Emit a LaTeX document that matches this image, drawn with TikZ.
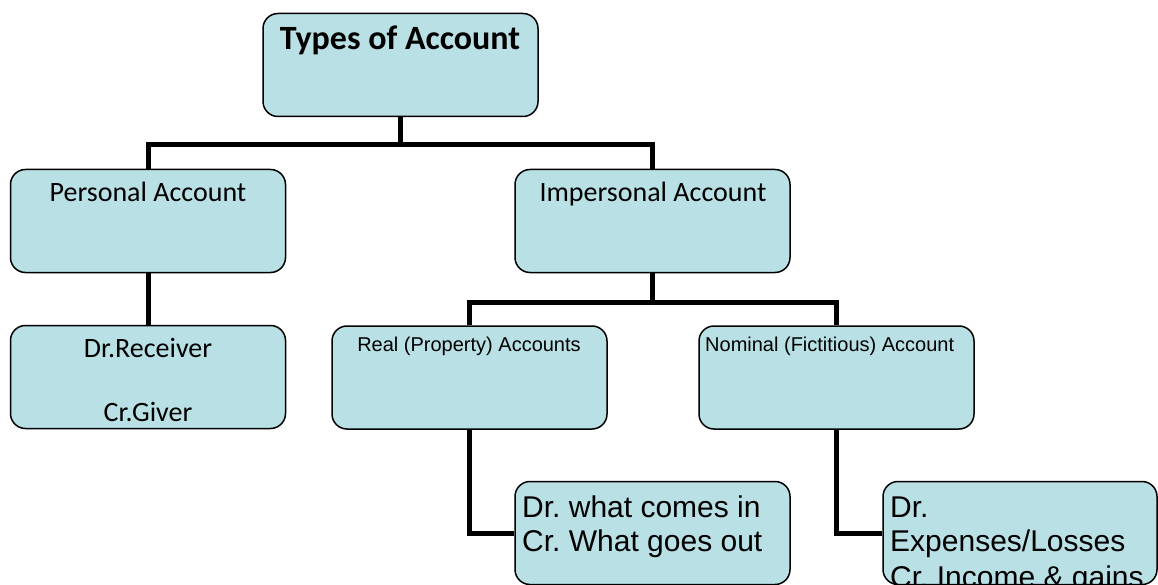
\documentclass[tikz,border=0pt]{standalone}
\usepackage{fontspec}
\newfontfamily\carl{Carlito}
\newfontfamily\arl{Liberation Sans}
\definecolor{boxfill}{RGB}{185,224,228}
\frenchspacing
\begin{document}
\begin{tikzpicture}[x=1pt,y=-1pt,
  box/.style={draw=black, line width=1.5pt, fill=boxfill, rounded corners=15pt,
    minimum width=275pt, minimum height=103pt, inner sep=0pt},
  conn/.style={line width=5pt, line join=miter},
  txt/.style={inner sep=0pt, anchor=base},
  ltxt/.style={inner sep=0pt, anchor=base west},
  fbig/.style={font=\carl\bfseries\fontsize{34}{40}\selectfont},
  fcal/.style={font=\carl\fontsize{28}{33}\selectfont},
  fsmall/.style={font=\arl\fontsize{20}{24}\selectfont},
  flarge/.style={font=\arl\fontsize{30}{34.5}\selectfont}]
\useasboundingbox (0,0) rectangle (1158,585);

% boxes
\node[box] (top)  at (400.5,65)  {};
\node[box] (pers) at (148,221)   {};
\node[box] (imp)  at (652.5,221) {};
\node[box] (recv) at (148,377)   {};
\node[box] (real) at (469.5,377.5) {};
\node[box] (nom)  at (836.5,377.5) {};
\node[box] (drin) at (652.5,533) {};
\node[box, minimum width=274pt] (drex) at (1020,533) {};

% texts
\node[txt, fbig] (ttop) at (400,50) {Types of Account};
\node[txt, fcal] (tpers) at (148,202) {Personal Account};
\node[txt, fcal] (timp) at (653,202) {Impersonal Account};
\node[txt, fcal] (trecvA) at (148,357) {Dr.Receiver};
\node[txt, fcal] (trecvB) at (148,421) {Cr.Giver};
\node[txt, fsmall] (treal) at (469,351) {Real (Property) Accounts};
\node[ltxt, fsmall] (tnom) at (705,351) {Nominal (Fictitious) Account};

\begin{scope}
  \clip[rounded corners=15pt] (drin.south west) rectangle (drin.north east);
  \node[ltxt, flarge] (tinA) at (522,517) {Dr. what comes in};
  \node[ltxt, flarge] (tinB) at (522,551.5) {Cr. What goes out};
\end{scope}
\begin{scope}
  \clip[rounded corners=15pt] ([shift={(0.75pt,-1.5pt)}]drex.south west) rectangle ([shift={(-0.75pt,0.75pt)}]drex.north east);
  \node[ltxt, flarge] (texA) at (890,517) {Dr.};
  \node[ltxt, flarge] (texB) at (890,551.5) {Expenses/Losses};
  \node[ltxt, flarge] (texC) at (890,587) {Cr. Income \& gains};
\end{scope}

% connectors
\coordinate (j1) at (400.5,145);
\coordinate (j2) at (652.5,302);
\draw[conn] (top.south) -- (j1);
\draw[conn] (pers.north) |- (j1) -| (imp.north);
\draw[conn] (pers.south) -- (recv.north);
\draw[conn] (imp.south) -- (j2);
\draw[conn] (real.north) |- (j2) -| (nom.north);
\draw[conn] (real.south) |- (drin.west);
\draw[conn] (nom.south) |- (drex.west);
\end{tikzpicture}
\end{document}
